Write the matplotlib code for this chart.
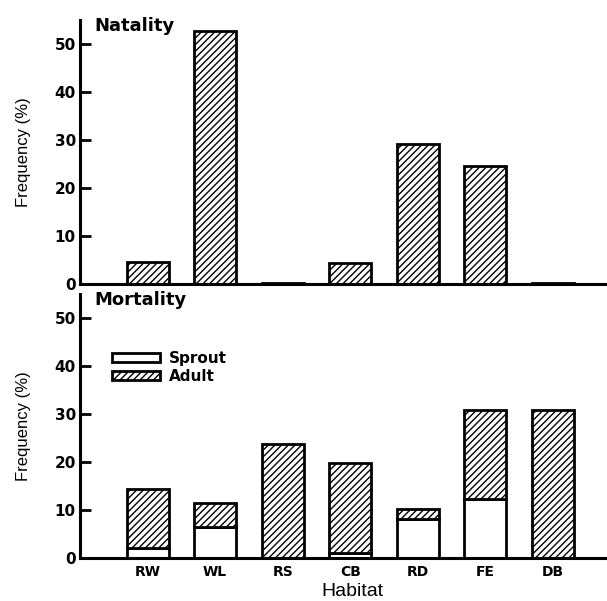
import numpy as np
import matplotlib
matplotlib.use("Agg")
import matplotlib.pyplot as plt

plt.rcParams['font.family'] = ['Liberation Sans', 'DejaVu Sans']
plt.rcParams['hatch.linewidth'] = 1.0

habitats = ['RW', 'WL', 'RS', 'CB', 'RD', 'FE', 'DB']
natality = [4.6, 52.7, 0.2, 4.4, 29.2, 24.5, 0.3]
mort_sprout = [2.0, 6.5, 0.0, 1.1, 8.1, 12.3, 0.0]
mort_total = [14.4, 11.4, 23.7, 19.9, 10.3, 30.9, 30.9]
mort_adult = [t - s for t, s in zip(mort_total, mort_sprout)]

x = np.arange(1, len(habitats) + 1)
width = 0.62
hatch = '/////'
bold = {'family': 'DejaVu Sans', 'weight': 'bold'}

fig = plt.figure(figsize=(6.07, 6.01), dpi=100)
ax1 = fig.add_axes([0.1318, 0.5275, 0.8682, 0.4393])
ax2 = fig.add_axes([0.1318, 0.0715, 0.8682, 0.4393])

ax1.bar(x, natality, width, color='white', edgecolor='black', linewidth=2, hatch=hatch)
ax2.bar(x, mort_sprout, width, color='white', edgecolor='black', linewidth=2, label='Sprout')
ax2.bar(x, mort_adult, width, bottom=mort_sprout, color='white', edgecolor='black',
        linewidth=2, hatch=hatch, label='Adult')

for ax, title in [(ax1, 'Natality'), (ax2, 'Mortality')]:
    ax.set_xlim(0, 7.8)
    ax.set_ylim(0, 55)
    ax.set_yticks([0, 10, 20, 30, 40, 50])
    ax.spines['top'].set_visible(False)
    ax.spines['right'].set_visible(False)
    ax.spines['left'].set_linewidth(2.2)
    ax.spines['bottom'].set_linewidth(2.2)
    ax.tick_params(axis='y', direction='in', length=8, width=2, pad=3)
    for lab in ax.get_yticklabels():
        lab.set_fontproperties(bold)
        lab.set_fontsize(11)
    ax.set_ylabel('Frequency (%)', fontsize=12, labelpad=17)
    ax.text(0.027, 1.012, title, transform=ax.transAxes, fontsize=13,
            va='top', ha='left', **bold)

ax1.set_xticks([])
ax2.set_xticks(x)
ax2.set_xticklabels(habitats)
for lab in ax2.get_xticklabels():
    lab.set_fontproperties(bold)
    lab.set_fontsize(10)
ax2.tick_params(axis='x', length=0, pad=5)

leg = ax2.legend(loc='upper left', bbox_to_anchor=(0.041, 0.825), frameon=False,
                 handlelength=3.1, handleheight=0.55, handletextpad=0.6,
                 labelspacing=0.2, borderaxespad=0.3,
                 prop={'family': 'DejaVu Sans', 'weight': 'bold', 'size': 11})

fig.text(0.58, 0.002, 'Habitat', fontsize=14, ha='center', va='bottom')

fig.savefig('out.png', dpi=100, facecolor='white')
